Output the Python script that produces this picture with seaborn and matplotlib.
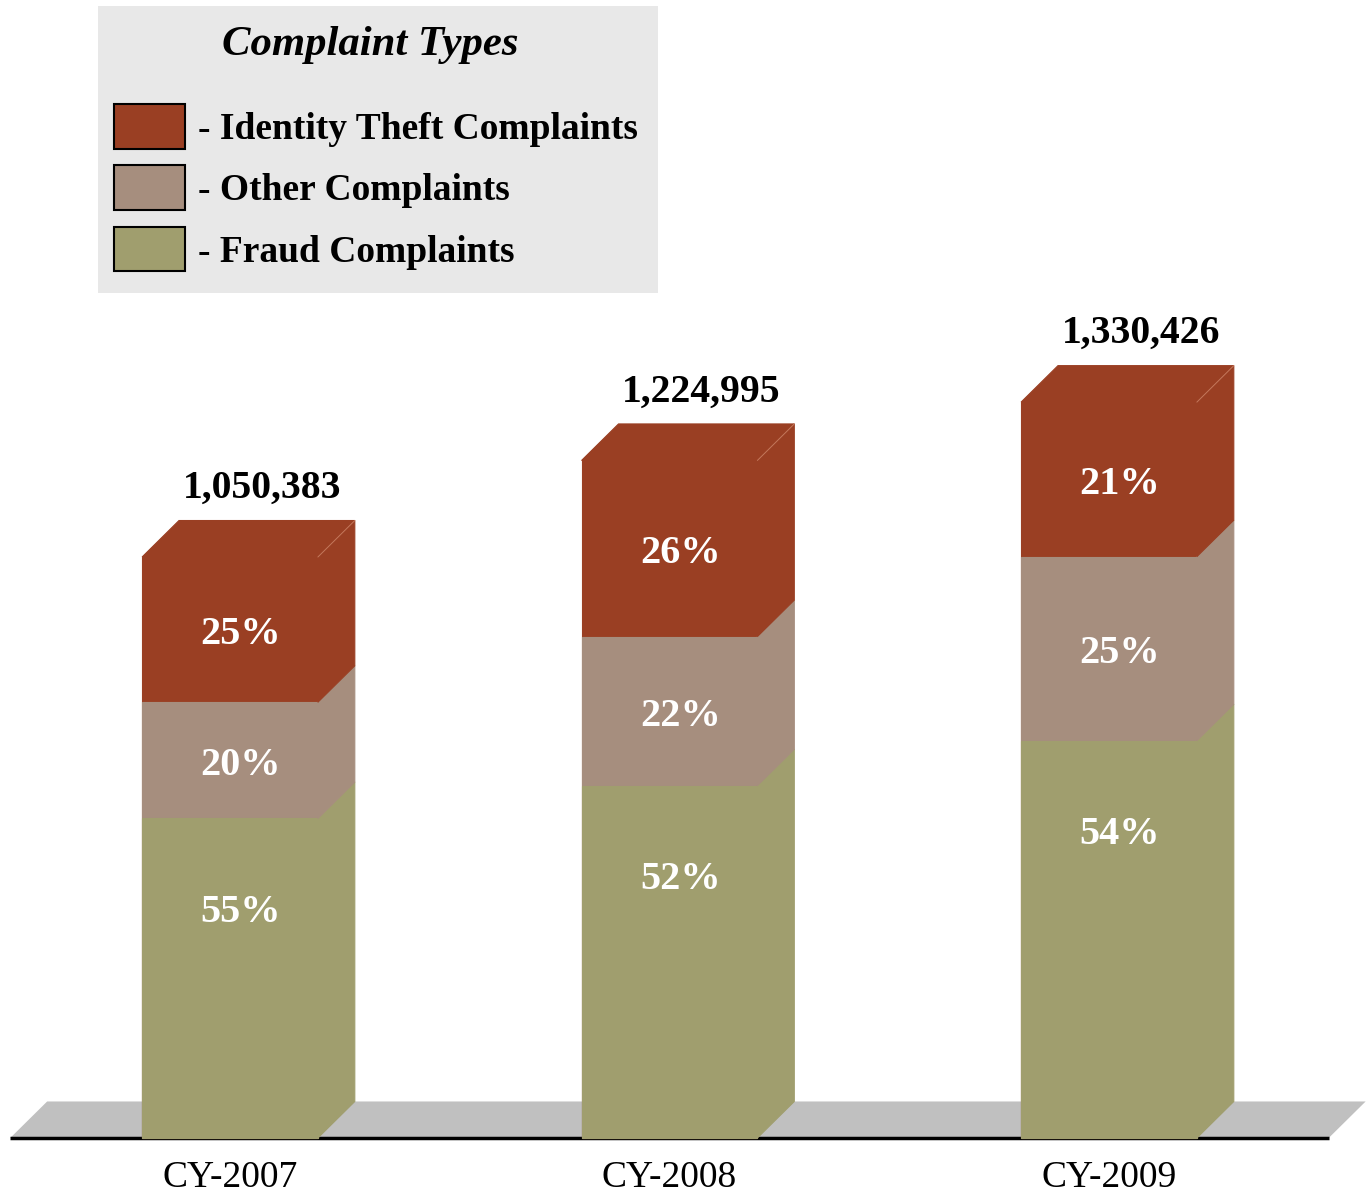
import matplotlib
matplotlib.use("Agg")
import pandas as pd
import seaborn as sns
import matplotlib.pyplot as plt
from matplotlib.patches import Polygon, Patch, Rectangle

# Data
years = ["CY-2007", "CY-2008", "CY-2009"]
totals = [1050383, 1224995, 1330426]
fraud_pct = [55, 52, 54]
other_pct = [20, 22, 25]
idtheft_pct = [25, 26, 21]

series = ["Identity Theft Complaints", "Other Complaints", "Fraud Complaints"]
colors = {"Identity Theft Complaints": "#9A3F23",
          "Other Complaints": "#A68E7E",
          "Fraud Complaints": "#A09E6E"}

sns.set_theme(style="white")
plt.rcParams["font.family"] = ["Liberation Serif", "DejaVu Serif"]
plt.rcParams["text.color"] = "black"

df = pd.DataFrame({"year": years, "total": totals})
df["fraud_top"] = df["total"] * pd.Series(fraud_pct) / 100
df["other_top"] = df["total"] * (pd.Series(fraud_pct) + pd.Series(other_pct)) / 100

fig = plt.figure(figsize=(13.66, 11.93), dpi=100)
ax = fig.add_axes([0, 0, 1, 1])

W = 0.4        # bar width
DX = 0.084     # fake 3d depth in category units
DY = 66000     # fake 3d depth in count units
NUDGE = 9000   # visual centring of the white labels

# floor + baseline
ax.add_patch(Polygon([(-0.5, 0), (2.5, 0), (2.5 + DX, DY), (-0.5 + DX, DY)],
                     closed=True, fc="#C0C0C0", ec="none", zorder=0))
ax.plot([-0.5, 2.5], [0, 0], color="black", lw=2.5, zorder=0.5, solid_capstyle="butt")

# front faces: tallest first, then overdraw
for col, name in [("total", series[0]), ("other_top", series[1]), ("fraud_top", series[2])]:
    sns.barplot(data=df, x="year", y=col, color=colors[name], width=W, saturation=1,
                errorbar=None, linewidth=0.8, edgecolor=colors[name], ax=ax, zorder=2)

# side + top faces
for i, (tot, ft, ot) in enumerate(zip(df["total"], df["fraud_top"], df["other_top"])):
    xr = i + W / 2
    xl = i - W / 2
    for name, b, t in [(series[2], 0, ft), (series[1], ft, ot), (series[0], ot, tot)]:
        ax.add_patch(Polygon([(xr, b), (xr + DX, b + DY), (xr + DX, t + DY), (xr, t)],
                             closed=True, fc=colors[name], ec=colors[name], lw=0.8, zorder=2))
    ax.add_patch(Polygon([(xl, tot), (xl + DX, tot + DY), (xr + DX, tot + DY), (xr, tot)],
                         closed=True, fc=colors[series[0]], ec=colors[series[0]], lw=0.8, zorder=2))
    ax.plot([xr, xr + DX], [tot, tot + DY], color="#C4785C", lw=0.7, zorder=3)

# labels
for i in range(len(years)):
    tot = totals[i]
    ft = df["fraud_top"][i]
    ot = df["other_top"][i]
    ax.text(i + 0.073, tot + DY + 58000, f"{tot:,}", ha="center", va="center",
            fontsize=28.5, fontweight="bold", color="black", zorder=4)
    ax.text(i + 0.025, (ot + tot) / 2 - NUDGE, f"{idtheft_pct[i]}%", ha="center", va="center",
            fontsize=29, fontweight="bold", color="white", zorder=4)
    ax.text(i + 0.025, (ft + ot) / 2 - NUDGE, f"{other_pct[i]}%", ha="center", va="center",
            fontsize=29, fontweight="bold", color="white", zorder=4)
    ax.text(i + 0.025, ft - 166000 - NUDGE / 2, f"{fraud_pct[i]}%", ha="center", va="center",
            fontsize=29, fontweight="bold", color="white", zorder=4)
    ax.text(i, -72000, years[i], ha="center", va="center", fontsize=27, color="black", zorder=4)

ax.set_xlim(-0.5233, 2.5848)
ax.set_ylim(-99500, 2057500)
ax.axis("off")

# legend box
ax.add_patch(Rectangle((98 / 1366, 1 - 293 / 1193), 560 / 1366, 287 / 1193,
                       transform=ax.transAxes, fc="#E8E8E8", ec="none", zorder=3))
ax.text(370 / 1366, 1 - 45 / 1193, "Complaint Types", transform=ax.transAxes,
        ha="center", va="center", fontsize=30.8, fontweight="bold", fontstyle="italic",
        color="black", zorder=4)
handles = [Patch(facecolor=colors[s], edgecolor="black", linewidth=1.5) for s in series]
leg = ax.legend(handles, ["- " + s for s in series], loc="upper left",
                bbox_to_anchor=(114 / 1366, 1 - 104 / 1193), frameon=False, borderpad=0,
                borderaxespad=0, prop={"weight": "bold", "size": 27}, handlelength=1.9,
                handleheight=1.45, labelspacing=0.45, handletextpad=0.35)
for t in leg.get_texts():
    t.set_color("black")

plt.savefig("out.png", dpi=100)
